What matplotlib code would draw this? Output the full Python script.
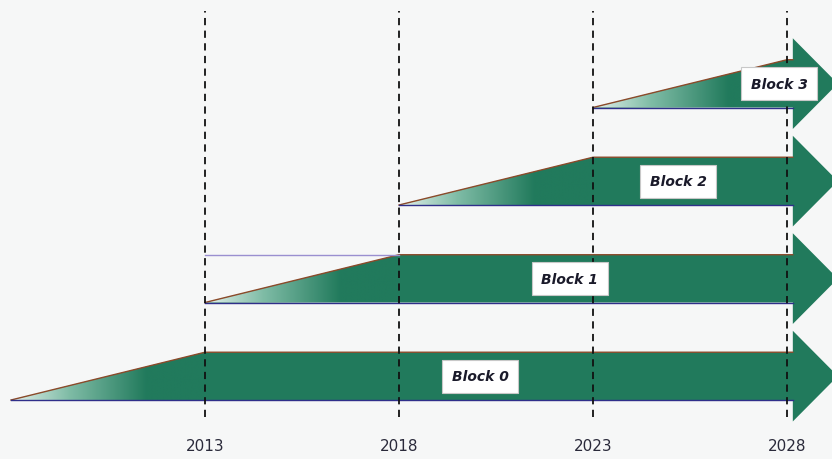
import matplotlib
matplotlib.use('Agg')
import matplotlib.pyplot as plt
import numpy as np
from matplotlib.patches import Polygon, Rectangle
from matplotlib.colors import LinearSegmentedColormap

# ---- data ----
blocks = ['Block 0', 'Block 1', 'Block 2', 'Block 3']
start_years = [2008, 2013, 2018, 2023]
full_years = [2013, 2018, 2023, 2028]
tick_years = [2013, 2018, 2023, 2028]
tick_labels = ['2013', '2018', '2023', '2028']

# ---- layout ----
label_x = [2020.1, 2022.4, 2025.2, 2027.8]
px_per_year = 38.8
px_per_unit = 97.5
shaft_h = 0.49
head_ext = 0.22
shaft_end = 2028.15
head_len = 45 / px_per_year
box_w = 76 / px_per_year
box_h = 33 / px_per_unit

green = '#217a5c'
bg = '#f6f7f7'
cmap = LinearSegmentedColormap.from_list(
    'ramp', [(0.0, '#e4f1ec'), (0.3, '#7fbca6'), (0.7, green), (1.0, green)])

fig = plt.figure(figsize=(8.32, 4.6), dpi=100)
fig.patch.set_facecolor(bg)
ax = fig.add_axes([0, 0, 1, 1])
ax.set_facecolor(bg)
ax.set_xlim(2013 - 205 / px_per_year, 2013 + 627 / px_per_year)
ax.set_ylim((401 - 460) / px_per_unit, 401 / px_per_unit)
ax.axis('off')

grad = np.linspace(0, 1, 256).reshape(1, -1)

for i, (name, s, f) in enumerate(zip(blocks, start_years, full_years)):
    b = i
    t = b + shaft_h
    tip = shaft_end + head_len
    pts = [(s, b), (f, t), (shaft_end, t), (shaft_end, t + head_ext),
           (tip, b + shaft_h / 2), (shaft_end, b - head_ext), (shaft_end, b)]
    poly = Polygon(pts, closed=True, facecolor=green, edgecolor='none', zorder=2)
    ax.add_patch(poly)
    im = ax.imshow(grad, cmap=cmap, extent=(s, f, b, t), aspect='auto',
                   interpolation='bilinear', zorder=2.5)
    im.set_clip_path(poly)
    # edges
    ax.plot([s, f, shaft_end], [b, t, t], color='#8b4a2a', lw=1.0, zorder=3)
    ax.plot([s, shaft_end], [b, b], color='#2f2f8a', lw=1.0, zorder=3)
    # label box
    cx = label_x[i]
    cy = b + shaft_h / 2
    ax.add_patch(Rectangle((cx - box_w / 2, cy - box_h / 2), box_w, box_h,
                           facecolor='white', edgecolor='#c8c8c8', lw=0.8, zorder=5))
    ax.text(cx, cy, name, ha='center', va='center', fontsize=10,
            fontweight='bold', fontstyle='italic', color='#1a1a2a', zorder=6)

# thin guide line on Block 1
ax.plot([start_years[1], full_years[1]], [1 + shaft_h, 1 + shaft_h],
        color='#9a8fd0', lw=1.0, zorder=3)

# dashed year lines
y_top = (401 - 12) / px_per_unit
y_bot = (401 - 418) / px_per_unit
for yr, lab in zip(tick_years, tick_labels):
    ax.plot([yr, yr], [y_bot, y_top], color='#111111', lw=1.3,
            linestyle=(0, (4, 3)), zorder=4)
    ax.text(yr, (401 - 447) / px_per_unit, lab, ha='center', va='center',
            fontsize=11, color='#2a2a3a')

fig.savefig('out.png', dpi=100, facecolor=bg)
